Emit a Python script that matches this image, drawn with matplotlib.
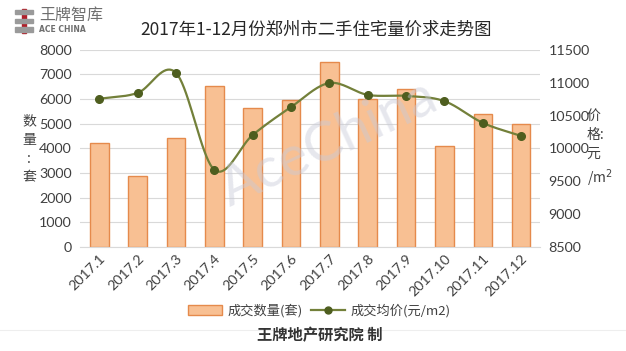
import numpy as np
import matplotlib.pyplot as plt
from matplotlib.patches import Patch, Rectangle
from matplotlib.lines import Line2D

plt.rcParams['font.family'] = ['Lato', 'Noto Sans CJK SC', 'DejaVu Sans']

months = ['2017.1', '2017.2', '2017.3', '2017.4', '2017.5', '2017.6',
          '2017.7', '2017.8', '2017.9', '2017.10', '2017.11', '2017.12']
volume = [4230, 2890, 4430, 6550, 5650, 5980, 7520, 6000, 6420, 4100, 5400, 5000]
price = [10755, 10845, 11150, 9675, 10205, 10630, 10995, 10815, 10800, 10720, 10390, 10190]

bar_face = '#F8C093'
bar_edge = '#E58A4C'
line_col = '#73803A'
dot_col = '#4E5E1F'


def smooth(x, y, n=20):
    # Catmull-Rom curve through the points, like Excel's smoothed line
    x = np.asarray(x, float)
    y = np.asarray(y, float)
    px = np.concatenate([[2 * x[0] - x[1]], x, [2 * x[-1] - x[-2]]])
    py = np.concatenate([[2 * y[0] - y[1]], y, [2 * y[-1] - y[-2]]])
    xs, ys = [], []
    t = np.linspace(0, 1, n)
    for i in range(1, len(px) - 2):
        for p, out in ((px, xs), (py, ys)):
            p0, p1, p2, p3 = p[i - 1], p[i], p[i + 1], p[i + 2]
            out.extend(0.5 * ((2 * p1) + (-p0 + p2) * t +
                              (2 * p0 - 5 * p1 + 4 * p2 - p3) * t ** 2 +
                              (-p0 + 3 * p1 - 3 * p2 + p3) * t ** 3))
    return np.array(xs), np.array(ys)


fig = plt.figure(figsize=(6.26, 3.51), dpi=100)
ax = fig.add_axes([0.128, 0.296, 0.735, 0.562])
ax2 = ax.twinx()

x = np.arange(len(months))
ax.bar(x, volume, width=0.48, color=bar_face, edgecolor=bar_edge, linewidth=1, zorder=2)
ax.set_ylim(0, 8000)
ax.set_yticks(range(0, 8001, 1000))
ax.set_xlim(-0.5, len(months) - 0.5)
ax.set_xticks(x)
ax.set_xticklabels(months, rotation=45, ha='right', rotation_mode='anchor',
                   fontsize=9.5, color='#404040')
ax.grid(axis='y', color='#D9D9D9', linewidth=0.8, zorder=0)
ax.set_axisbelow(True)

sx, sy = smooth(x, price)
ax2.plot(sx, sy, color=line_col, linewidth=1.6, zorder=3)
ax2.plot(x, price, 'o', color=dot_col, markersize=5.5, zorder=4)
ax2.set_ylim(8500, 11500)
ax2.set_yticks(range(8500, 11501, 500))

for a in (ax, ax2):
    for s in a.spines.values():
        s.set_visible(False)
    a.tick_params(length=0, labelsize=10.3, labelcolor='#404040', pad=6)
ax.spines['bottom'].set_visible(True)
ax.spines['bottom'].set_color('#D9D9D9')
ax.tick_params(axis='x', pad=4)

fig.text(0.505, 0.915, '2017年1-12月份郑州市二手住宅量价求走势图',
         ha='center', va='center', fontsize=12.5, color='#262626',
         family=['Noto Sans CJK SC', 'DejaVu Sans'])

fig.text(0.047, 0.575, '数\n量\n:\n套', ha='center', va='center', fontsize=10,
         color='#404040', linespacing=1.45, family=['Noto Sans CJK SC', 'DejaVu Sans'])
fig.text(0.937, 0.575, '价\n格:\n元\n/m$^2$', ha='left', va='center', fontsize=10,
         color='#404040', linespacing=1.45, family=['Noto Sans CJK SC', 'DejaVu Sans'])

# watermark
fig.text(0.525, 0.59, 'AceChina', rotation=25, ha='center', va='center',
         fontsize=40, color='#C8CAD8', alpha=0.45, family='Lato', zorder=10)

# logo
fig.patches.append(Rectangle((0.035, 0.905), 0.006, 0.07, transform=fig.transFigure,
                             color='#B0202A'))
for yy in (0.96, 0.935, 0.91):
    fig.patches.append(Rectangle((0.024, yy), 0.028, 0.012, transform=fig.transFigure,
                                 color='#9A9A9A'))
fig.text(0.062, 0.955, '王牌智库', ha='left', va='center', fontsize=11.5,
         color='#6E6E6E', family=['Noto Sans CJK SC', 'DejaVu Sans'])
fig.text(0.062, 0.915, 'ACE CHINA', ha='left', va='center', fontsize=5.5,
         color='#6E6E6E', fontweight='bold', family='DejaVu Sans')

handles = [Patch(facecolor=bar_face, edgecolor=bar_edge),
           Line2D([0], [0], color=line_col, marker='o', markerfacecolor=dot_col,
                  markeredgecolor=dot_col, markersize=5, linewidth=1.6)]
fig.legend(handles, ['成交数量(套)', '成交均价(元/m2)'], loc='center',
           bbox_to_anchor=(0.51, 0.115), ncol=2, frameon=False, fontsize=9.5,
           handlelength=2.6, handleheight=0.8, columnspacing=0.6, handletextpad=0.4,
           labelcolor='#404040', prop={'family': ['Noto Sans CJK SC', 'DejaVu Sans'],
                                       'size': 9.5})

fig.add_artist(Line2D([0.0, 1.0], [0.06, 0.06], transform=fig.transFigure,
                      color='#EEEEEE', linewidth=0.8))
fig.text(0.51, 0.045, '王牌地产研究院 制', ha='center', va='center', fontsize=11,
         fontweight='bold', color='#333333',
         family=['Noto Sans CJK SC', 'DejaVu Sans'])

fig.savefig('out.png', dpi=100, facecolor='white')
